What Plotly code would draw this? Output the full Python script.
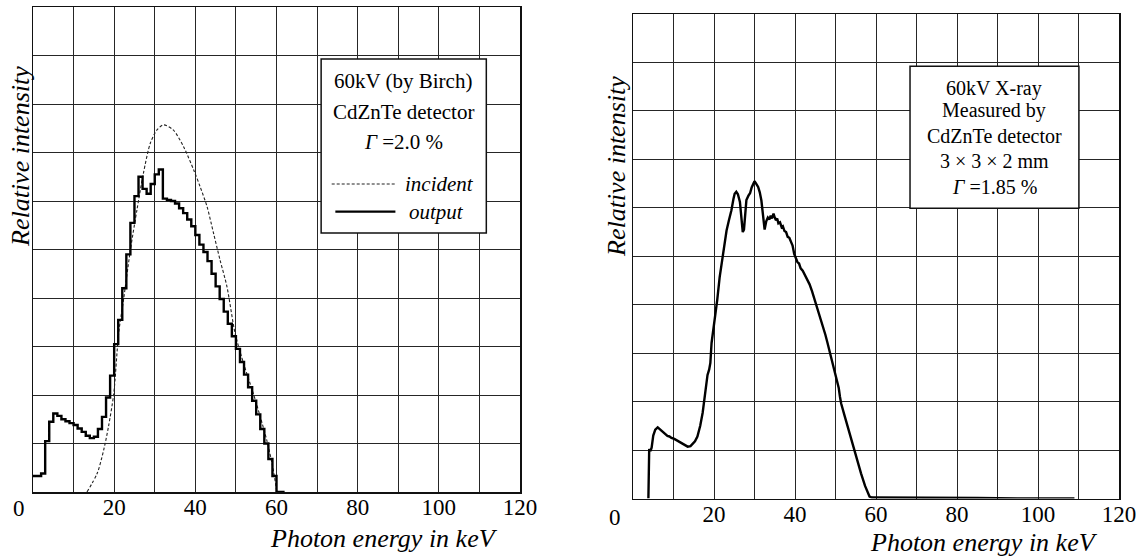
import plotly.graph_objects as go

# ---------------- data ----------------
# Left panel: incident spectrum (Birch, 60 kV) - dashed
inc_e = [13.3, 15.8, 17.4, 18.6, 19.9, 21.1, 22.3, 24.0, 25.6, 27.2, 28.9, 30.5, 32.2,
         34.6, 37.1, 39.6, 41.2, 42.9, 44.5, 46.1, 47.8, 49.8, 52.0, 54.3, 56.0, 57.6, 59.0, 60.1]
inc_i = [0.0, 0.38, 0.86, 1.35, 2.03, 3.27, 3.96, 4.99, 5.81, 6.57, 7.19, 7.46, 7.57,
         7.46, 7.12, 6.64, 6.29, 5.88, 5.33, 4.78, 4.23, 3.27, 2.62, 2.03, 1.55, 1.07, 0.55, 0.0]

# Left panel: calculated detector output (histogram, 1 keV bins) - solid
out_e = list(range(0, 63))
out_i = [0.33, 0.33, 0.38, 1.05, 1.45, 1.62, 1.57, 1.50, 1.46, 1.42,
         1.38, 1.31, 1.24, 1.16, 1.11, 1.14, 1.30, 1.55, 1.95, 2.40,
         3.05, 3.55, 4.20, 4.90, 5.55, 6.10, 6.50, 6.25, 6.15, 6.35,
         6.55, 6.65, 6.05, 6.02, 6.00, 5.95, 5.85, 5.75, 5.62, 5.48,
         5.30, 5.10, 4.95, 4.76, 4.50, 4.24, 3.98, 3.72, 3.47, 3.21,
         2.95, 2.68, 2.42, 2.16, 1.88, 1.60, 1.30, 1.00, 0.68, 0.33,
         0.0, 0.0, 0.0]

# Right panel: measured spectrum, CdZnTe 3x3x2 mm
meas_e = [3.8, 3.9, 4.0, 4.3, 4.6, 5.0, 5.5, 6.1, 6.6, 7.0, 7.5, 8.0, 8.5, 9.0, 9.5,
          10.2, 11.0, 11.8, 12.6, 13.5, 14.2, 14.7, 15.3, 15.9, 16.6, 17.2, 17.6, 18.0,
          18.4, 18.8, 19.1, 19.4, 19.8, 20.3, 20.8, 21.4, 22.2, 23.1, 23.7, 24.3, 24.8,
          25.1, 25.5, 25.9, 26.4, 26.8, 27.1, 27.4, 27.7, 28.0, 28.5, 28.9, 29.3, 29.7,
          30.0, 30.4, 30.9, 31.3, 31.7, 32.1, 32.5, 32.9, 33.3, 33.7, 34.0, 34.3, 34.7,
          35.0, 35.3, 35.6, 35.9, 36.3, 36.7, 37.0, 37.4, 37.8, 38.2, 38.6, 39.0, 39.4,
          39.8, 40.2, 40.6, 41.0, 41.4, 41.9, 42.5, 43.0, 43.6, 44.2, 44.7, 45.2, 45.8,
          46.3, 46.9, 47.5, 48.0, 48.5, 49.1, 49.6, 50.2, 50.5, 50.8, 51.1, 51.4, 52.2,
          53.0, 53.8, 54.7, 55.5, 56.3, 57.3, 58.4, 59.0, 65.0, 75.0, 85.0, 95.0, 109.0]
meas_i = [0.0, 0.85, 1.02, 0.98, 1.05, 1.30, 1.42, 1.47, 1.43, 1.40, 1.36, 1.33, 1.29, 1.28, 1.25,
          1.23, 1.19, 1.15, 1.11, 1.07, 1.08, 1.12, 1.18, 1.28, 1.50, 1.77, 2.05, 2.32,
          2.55, 2.66, 2.80, 3.21, 3.45, 3.80, 4.10, 4.57, 5.05, 5.53, 5.75, 5.95, 6.18,
          6.29, 6.33, 6.28, 6.12, 5.80, 5.50, 5.55, 5.95, 6.16, 6.25, 6.30, 6.42, 6.52,
          6.55, 6.50, 6.43, 6.32, 6.15, 5.85, 5.55, 5.72, 5.80, 5.76, 5.84, 5.78, 5.88,
          5.80, 5.74, 5.78, 5.68, 5.70, 5.60, 5.62, 5.52, 5.50, 5.40, 5.38, 5.28, 5.22,
          5.05, 4.95, 4.88, 4.85, 4.75, 4.70, 4.60, 4.52, 4.42, 4.28, 4.15, 4.02, 3.86,
          3.70, 3.54, 3.38, 3.22, 3.06, 2.88, 2.70, 2.51, 2.38, 2.28, 2.10, 1.96, 1.72,
          1.48, 1.24, 1.00, 0.76, 0.52, 0.26, 0.04, 0.02, 0.02, 0.01, 0.01, 0.0, 0.0]

x_ticks = [20, 40, 60, 80, 100, 120]
x_ticktext = ["20", "40", "60", "80", "100", "120"]

left_box_lines = ["60kV (by Birch)", "CdZnTe detector", "<i>Γ</i> =2.0 %"]
right_box_lines = ["60kV X-ray", "Measured by", "CdZnTe detector", "3 × 3 × 2 mm", "<i>Γ</i> =1.85 %"]
y_title = "Relative intensity"
x_title = "Photon energy in keV"

# ---------------- figure ----------------
W, H = 1145, 559
FONT = "Liberation Serif"
GRID = "#262626"

fig = go.Figure()

fig.add_trace(go.Scatter(x=inc_e, y=inc_i, mode="lines", xaxis="x", yaxis="y",
                         line=dict(color="#222", width=1.1, dash="3px,2px", shape="spline", smoothing=0.8),
                         showlegend=False, hoverinfo="skip"))
fig.add_trace(go.Scatter(x=out_e, y=out_i, mode="lines", xaxis="x", yaxis="y",
                         line=dict(color="#000", width=2.4, shape="hv"),
                         showlegend=False, hoverinfo="skip"))
fig.add_trace(go.Scatter(x=meas_e, y=meas_i, mode="lines", xaxis="x2", yaxis="y2",
                         line=dict(color="#000", width=2.4),
                         showlegend=False, hoverinfo="skip"))


def px_x(p):
    return p / W


def px_y(p):
    return 1 - p / H


xa = dict(range=[0, 120], tickvals=x_ticks, ticktext=x_ticktext, ticks="", showgrid=True,
          gridcolor=GRID, gridwidth=1, zeroline=False, showline=True, linecolor="#111",
          linewidth=1.5, mirror=True, automargin=False, ticklabelstandoff=-6,
          minor=dict(dtick=10, tick0=0, showgrid=True, gridcolor=GRID, gridwidth=1, ticks=""),
          tickfont=dict(family=FONT, size=23, color="#000"))
ya = dict(range=[0, 10], dtick=1, showticklabels=False, ticks="", showgrid=True,
          gridcolor=GRID, gridwidth=1, zeroline=False, showline=True, linecolor="#111",
          linewidth=1.5, mirror=True, automargin=False)

fig.update_layout(
    width=W, height=H, margin=dict(l=0, r=0, t=0, b=0, autoexpand=False),
    paper_bgcolor="white", plot_bgcolor="white",
    xaxis=dict(xa, domain=[px_x(33), px_x(520)], anchor="y"),
    yaxis=dict(ya, domain=[px_y(492), px_y(7)], anchor="x"),
    xaxis2=dict(xa, domain=[px_x(633), px_x(1119)], anchor="y2"),
    yaxis2=dict(ya, domain=[px_y(498.5), px_y(14)], anchor="x2"),
)

ann = []
# zero tick labels (offset left of axis as in the original)
ann.append(dict(text="0", x=0, y=0, xref="x", yref="y", xshift=-14, yshift=-16,
                xanchor="center", yanchor="middle",
                showarrow=False, font=dict(family=FONT, size=23, color="#000")))
ann.append(dict(text="0", x=0, y=0, xref="x2", yref="y2", xshift=-18, yshift=-19,
                xanchor="center", yanchor="middle",
                showarrow=False, font=dict(family=FONT, size=23, color="#000")))

# axis titles
ann.append(dict(text="<i>%s</i>" % y_title, x=px_x(21), y=px_y(157), xref="paper", yref="paper",
                xanchor="center", yanchor="middle",
                textangle=-90, showarrow=False, font=dict(family=FONT, size=26, color="#000")))
ann.append(dict(text="<i>%s</i>" % y_title, x=px_x(616), y=px_y(167), xref="paper", yref="paper",
                xanchor="center", yanchor="middle",
                textangle=-90, showarrow=False, font=dict(family=FONT, size=26, color="#000")))
ann.append(dict(text="<i>%s</i>" % x_title, x=px_x(500), y=px_y(538), xref="paper", yref="paper",
                xanchor="right", yanchor="middle", showarrow=False,
                font=dict(family=FONT, size=26, color="#000")))
ann.append(dict(text="<i>%s</i>" % x_title, x=px_x(1100), y=px_y(542), xref="paper", yref="paper",
                xanchor="right", yanchor="middle", showarrow=False,
                font=dict(family=FONT, size=26, color="#000")))

# left info box text
for txt, yv in zip(left_box_lines, [8.48, 7.84, 7.22]):
    ann.append(dict(text=txt, x=91.2, y=yv, xref="x", yref="y", showarrow=False,
                    xanchor="center", yanchor="middle",
                    font=dict(family=FONT, size=21, color="#000")))
ann.append(dict(text="<i>incident</i>", x=91.2, y=6.35, xref="x", yref="y", xanchor="left",
                yanchor="middle", showarrow=False, font=dict(family=FONT, size=21, color="#000")))
ann.append(dict(text="<i>output</i>", x=92.2, y=5.78, xref="x", yref="y", xanchor="left",
                yanchor="middle", showarrow=False, font=dict(family=FONT, size=21, color="#000")))

# right info box text
for txt, yv in zip(right_box_lines, [8.47, 8.01, 7.49, 6.97, 6.43]):
    ann.append(dict(text=txt, x=89.2, y=yv, xref="x2", yref="y2", showarrow=False,
                    xanchor="center", yanchor="middle",
                    font=dict(family=FONT, size=20, color="#000")))

fig.update_layout(annotations=ann)

shapes = [
    dict(type="rect", xref="x", yref="y", x0=71, x1=111.7, y0=5.34, y1=8.93,
         fillcolor="white", line=dict(color="#111", width=1.5), layer="above"),
    dict(type="line", xref="x", yref="y", x0=73.6, x1=89.3, y0=6.35, y1=6.35,
         line=dict(color="#222", width=1.1, dash="3px,2px"), layer="above"),
    dict(type="line", xref="x", yref="y", x0=74.5, x1=89.3, y0=5.78, y1=5.78,
         line=dict(color="#000", width=2.2), layer="above"),
    dict(type="rect", xref="x2", yref="y2", x0=68.4, x1=110.1, y0=5.99, y1=8.92,
         fillcolor="white", line=dict(color="#111", width=1.5), layer="above"),
]
fig.update_layout(shapes=shapes)

fig.write_html("out.html",
               config={"displayModeBar": False, "staticPlot": True},
               post_script="document.body.style.margin='0';document.body.style.padding='0';"
                           "document.body.style.overflow='hidden';")
